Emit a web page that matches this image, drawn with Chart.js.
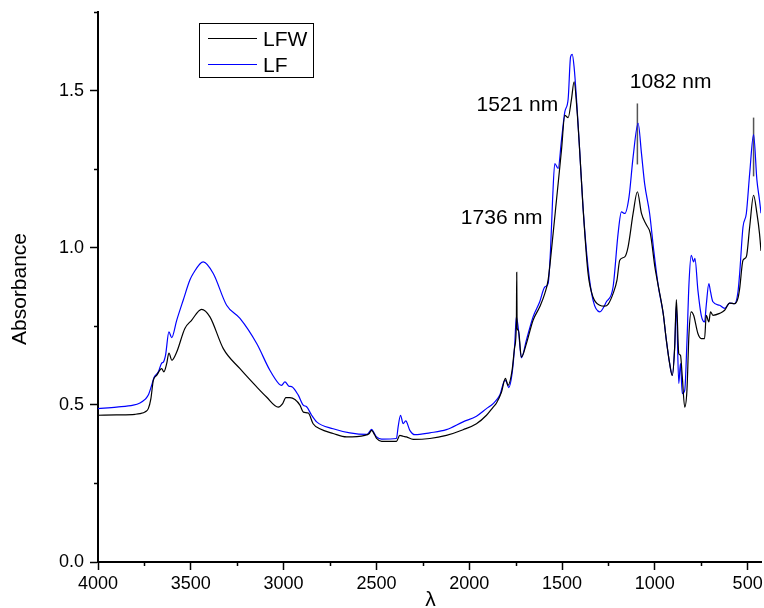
<!DOCTYPE html>
<html>
<head>
<meta charset="utf-8">
<script src="https://cdn.jsdelivr.net/npm/chart.js@4/dist/chart.umd.min.js"></script>
<style>
  html, body { margin: 0; padding: 0; background: #fff; }
  #wrap { width: 764px; height: 608px; }
</style>
</head>
<body>
<div id="wrap"><canvas id="c" width="764" height="608"></canvas></div>
<script>
// ---- data ----
const lfwX = [4000,3900,3800,3774,3745,3729,3715,3702,3684,3657,3645,3630,3618,3602,3576,3532,3496,3442,3397,3325,3235,3145,3092,3029,3005,2988,2966,2939,2912,2894,2867,2841,2805,2733,2661,2562,2540,2526,2510,2499,2472,2392,2374,2356,2338,2302,2212,2123,2033,1961,1907,1871,1853,1826,1805,1791,1769,1755,1746,1744,1742,1735,1719,1692,1656,1620,1593,1575,1548,1530,1503,1485,1467,1449,1435,1419,1405,1387,1360,1333,1297,1270,1252,1225,1204,1189,1162,1144,1117,1094,1072,1045,1024,1000,982,955,938,920,906,893,884,871,862,852,839,827,816,804,791,768,750,732,723,709,700,687,651,624,597,570,552,543,525,507,489,468,450,436,428];
const lfwY = [0.467,0.468,0.470,0.472,0.478,0.488,0.520,0.578,0.594,0.615,0.605,0.631,0.665,0.642,0.668,0.743,0.769,0.804,0.780,0.679,0.615,0.557,0.525,0.493,0.504,0.523,0.523,0.517,0.499,0.477,0.474,0.440,0.424,0.409,0.398,0.403,0.408,0.419,0.405,0.393,0.384,0.384,0.403,0.400,0.398,0.390,0.393,0.403,0.421,0.440,0.467,0.493,0.506,0.541,0.584,0.562,0.610,0.684,0.759,0.922,0.745,0.737,0.652,0.695,0.769,0.812,0.854,0.897,1.045,1.151,1.310,1.421,1.414,1.473,1.528,1.436,1.310,1.130,0.920,0.843,0.817,0.814,0.820,0.854,0.897,0.960,0.971,1.003,1.109,1.178,1.109,1.072,1.045,0.940,0.880,0.791,0.706,0.631,0.594,0.684,0.835,0.663,0.658,0.589,0.493,0.546,0.727,0.796,0.785,0.727,0.711,0.711,0.785,0.764,0.796,0.785,0.791,0.801,0.824,0.822,0.840,0.870,0.960,0.971,1.066,1.167,1.109,1.045,0.990];

const lfX = [4000,3900,3810,3774,3745,3729,3711,3698,3675,3657,3648,3636,3618,3603,3576,3541,3505,3487,3433,3379,3307,3235,3145,3074,3024,3011,2993,2970,2957,2921,2894,2876,2849,2822,2733,2643,2553,2540,2526,2510,2499,2472,2392,2383,2370,2356,2342,2320,2293,2212,2123,2033,1961,1907,1871,1835,1808,1799,1787,1769,1755,1746,1735,1719,1692,1656,1620,1593,1575,1562,1551,1539,1521,1503,1485,1467,1454,1445,1435,1422,1405,1387,1360,1333,1297,1261,1225,1198,1180,1162,1139,1117,1090,1072,1055,1028,1006,982,955,938,920,906,893,884,871,862,852,839,827,816,804,791,784,768,750,732,723,709,700,687,651,624,597,570,552,543,525,507,489,468,450,436,428];
const lfY = [0.488,0.493,0.499,0.506,0.518,0.531,0.562,0.587,0.605,0.633,0.636,0.658,0.732,0.714,0.769,0.833,0.897,0.918,0.955,0.918,0.817,0.775,0.695,0.610,0.566,0.562,0.573,0.559,0.558,0.531,0.499,0.494,0.467,0.446,0.424,0.411,0.406,0.412,0.422,0.408,0.398,0.391,0.393,0.430,0.467,0.440,0.449,0.419,0.405,0.411,0.421,0.446,0.464,0.488,0.504,0.531,0.578,0.573,0.555,0.600,0.690,0.780,0.740,0.650,0.706,0.780,0.828,0.875,0.886,0.992,1.151,1.268,1.252,1.342,1.432,1.473,1.607,1.615,1.575,1.473,1.310,1.130,0.939,0.833,0.796,0.828,0.875,1.045,1.114,1.109,1.162,1.289,1.396,1.300,1.204,1.109,0.992,0.880,0.791,0.706,0.631,0.594,0.684,0.817,0.568,0.632,0.536,0.546,0.700,0.886,0.976,0.955,0.966,0.865,0.785,0.764,0.817,0.886,0.860,0.828,0.817,0.807,0.824,0.822,0.860,0.918,1.066,1.109,1.236,1.360,1.215,1.151,1.110];

const seriesNames = ["LFW", "LF"];
const marker1X = [1094, 1094];
const marker1Y = [1.265, 1.459];
const marker2X = [468, 468];
const marker2Y = [1.227, 1.414];

const xTicks = [4000, 3500, 3000, 2500, 2000, 1500, 1000, 500];
const xMinor = [3750, 3250, 2750, 2250, 1750, 1250, 750];
const yTicks = [0, 0.5, 1.0, 1.5];
const yMinor = [0.25, 0.75, 1.25, 1.75];

const annotations = [
  { text: "1521 nm", x: 1961, y: 1.434 },
  { text: "1082 nm", x: 1135, y: 1.507 },
  { text: "1736 nm", x: 2045, y: 1.075 }
];
const xTitle = "λ";
const yTitle = "Absorbance";

// ---- build ----
const zip = (xs, ys) => xs.map((x, i) => ({ x: x, y: ys[i] }));
const FONT = "'Liberation Sans', Arial, sans-serif";

const decor = {
  id: 'decor',
  afterDraw(chart) {
    const ctx = chart.ctx;
    const xs = chart.scales.x, ys = chart.scales.y;
    const ca = chart.chartArea;
    ctx.save();
    // minor ticks
    ctx.strokeStyle = '#000';
    ctx.lineWidth = 1.5;
    xMinor.forEach(v => {
      const px = Math.round(xs.getPixelForValue(v)) + 0.5;
      ctx.beginPath(); ctx.moveTo(px, ca.bottom); ctx.lineTo(px, ca.bottom + 4); ctx.stroke();
    });
    yMinor.forEach(v => {
      const py = Math.round(ys.getPixelForValue(v)) + 0.5;
      ctx.beginPath(); ctx.moveTo(ca.left, py); ctx.lineTo(ca.left - 4, py); ctx.stroke();
    });
    // axis titles
    ctx.fillStyle = '#000';
    ctx.font = '21px ' + FONT;
    ctx.textAlign = 'center';
    ctx.textBaseline = 'alphabetic';
    ctx.fillText(xTitle, (ca.left + ca.right) / 2 + 1, 606);
    ctx.save();
    ctx.translate(26, 289);
    ctx.rotate(-Math.PI / 2);
    ctx.fillText(yTitle, 0, 0);
    ctx.restore();
    // annotations
    ctx.textAlign = 'left';
    annotations.forEach(a => {
      ctx.fillText(a.text, xs.getPixelForValue(a.x), ys.getPixelForValue(a.y));
    });
    // legend
    ctx.lineWidth = 1;
    ctx.strokeStyle = '#000';
    ctx.strokeRect(199.5, 23.5, 114, 54);
    const rows = [38.5, 64.5];
    chart.data.datasets.slice(0, 2).forEach((ds, i) => {
      ctx.strokeStyle = ds.borderColor;
      ctx.lineWidth = 1.2;
      ctx.beginPath(); ctx.moveTo(208, rows[i]); ctx.lineTo(257, rows[i]); ctx.stroke();
      ctx.fillStyle = '#000';
      ctx.fillText(ds.label, 263, rows[i] + 7.5);
    });
    ctx.restore();
  }
};

new Chart(document.getElementById('c'), {
  type: 'line',
  data: {
    datasets: [
      { label: seriesNames[0], data: zip(lfwX, lfwY), borderColor: '#000000', borderWidth: 1.2, pointRadius: 0, cubicInterpolationMode: 'monotone' },
      { label: seriesNames[1], data: zip(lfX, lfY), borderColor: '#0000ff', borderWidth: 1.2, pointRadius: 0, cubicInterpolationMode: 'monotone' },
      { label: 'm1', data: zip(marker1X, marker1Y), borderColor: '#555555', borderWidth: 1.5, pointRadius: 0 },
      { label: 'm2', data: zip(marker2X, marker2Y), borderColor: '#555555', borderWidth: 1.5, pointRadius: 0 }
    ]
  },
  options: {
    responsive: false,
    animation: false,
    devicePixelRatio: 1,
    layout: { padding: { top: 12, right: 3, left: 0, bottom: 0 } },
    plugins: { legend: { display: false }, tooltip: { enabled: false } },
    scales: {
      x: {
        type: 'linear', reverse: true, min: 428, max: 4000, position: 'bottom',
        grid: { display: true, drawOnChartArea: false, drawTicks: true, tickLength: 8, tickWidth: 1.5, tickColor: '#000' },
        border: { display: true, color: '#000', width: 2 },
        ticks: { color: '#000', font: { size: 18, family: FONT }, padding: 3, maxRotation: 0, callback: v => String(v) },
        afterBuildTicks: s => { s.ticks = xTicks.map(v => ({ value: v })); },
        afterFit: s => { s.height = 46; s.paddingLeft = 0; s.paddingRight = 0; }
      },
      y: {
        type: 'linear', min: 0, max: 1.75, position: 'left',
        grid: { display: true, drawOnChartArea: false, drawTicks: true, tickLength: 8, tickWidth: 1.5, tickColor: '#000' },
        border: { display: true, color: '#000', width: 2 },
        ticks: { color: '#000', font: { size: 18, family: FONT }, padding: 6, callback: v => Number(v).toFixed(1) },
        afterBuildTicks: s => { s.ticks = yTicks.map(v => ({ value: v })); },
        afterFit: s => { s.width = 98; s.paddingTop = 0; s.paddingBottom = 0; }
      }
    }
  },
  plugins: [decor]
});
</script>
</body>
</html>
